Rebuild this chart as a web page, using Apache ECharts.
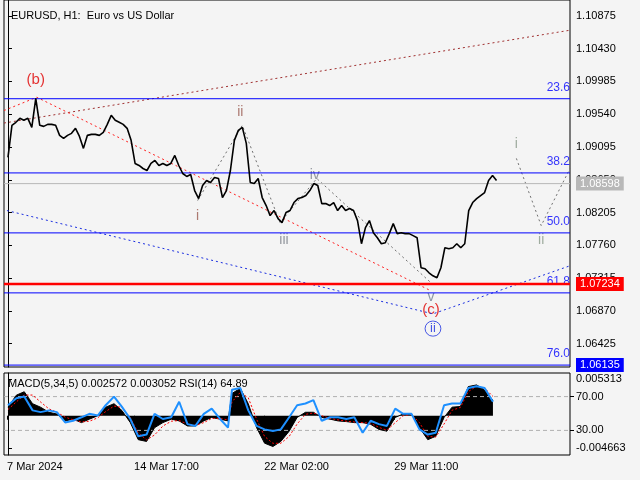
<!DOCTYPE html>
<html><head><meta charset="utf-8">
<script src="https://cdn.jsdelivr.net/npm/echarts@6/dist/echarts.min.js"></script>
<style>html,body{margin:0;padding:0;background:#f4f4f4}#c{width:640px;height:480px}</style>
</head><body><div id="c"></div>
<script>
// Price trace (EURUSD H1), one point per bar step
const priceIdx = [];
const priceVals = [1.08953,1.09389,1.09430,1.09484,1.09457,1.09484,1.09362,1.09756,1.09389,1.09375,1.09402,1.09402,1.09389,1.09253,1.09212,1.09253,1.09280,1.09348,1.09239,1.09076,1.09253,1.09266,1.09266,1.09253,1.09294,1.09402,1.09525,1.09457,1.09430,1.09402,1.09348,1.09185,1.08872,1.08844,1.08803,1.08776,1.08872,1.08912,1.08844,1.08872,1.08844,1.08872,1.08980,1.08844,1.08735,1.08695,1.08722,1.08504,1.08395,1.08572,1.08640,1.08613,1.08681,1.08667,1.08409,1.08504,1.08776,1.09185,1.09321,1.09362,1.09144,1.08613,1.08599,1.08667,1.08409,1.08300,1.08164,1.08232,1.08123,1.08069,1.08205,1.08232,1.08341,1.08395,1.08409,1.08436,1.08504,1.08599,1.08572,1.08327,1.08327,1.08300,1.08341,1.08232,1.08300,1.08232,1.08259,1.08232,1.08096,1.07782,1.08001,1.08096,1.07932,1.07864,1.07782,1.07796,1.07919,1.08055,1.07919,1.07932,1.07919,1.07919,1.07892,1.07864,1.07456,1.07443,1.07388,1.07347,1.07320,1.07456,1.07728,1.07715,1.07728,1.07782,1.07728,1.07782,1.08232,1.08341,1.08395,1.08436,1.08477,1.08640,1.08708,1.08640];
for (let i = 0; i < priceVals.length; i++) priceIdx.push(i);

const fibLevels = [23.6, 38.2, 50.0, 61.8, 76.0];
const fibPrices = [1.0975, 1.08743, 1.07929, 1.07115, 1.06135];
const priceTicks = [1.06425,1.06870,1.07315,1.07760,1.08205,1.08650,1.09095,1.09540,1.09985,1.10430,1.10875];
const lastPrice = 1.08598, redLevel = 1.07234;

const upperChannel = [[-1,1.0942],[141.5,1.1068]];
const bcLine = [[-1,1.0959],[7.25,1.0977],[106.5,1.07143]];
const blueLine = [[-0.25,1.08232],[107,1.0683],[141.5,1.07483]];
const waveLine = [[47.75,1.08368],[59,1.09389],[68.5,1.08069],[77.75,1.08667],[106.5,1.07252]];
const futureLine = [[128,1.0894],[134.25,1.08028],[141.5,1.08803]];

const macdX = [0,2.1,4.1,6.2,8.2,10.3,12.3,14.4,16.4,18.5,20.5,22.6,24.6,26.7,28.7,30.8,32.8,34.9,36.9,39,41.1,43.1,45.2,47.2,49.3,51.3,53.4,55.4,56.4,58.5,60.5,62.6,64.6,66.7,68.7,70.8,72.8,74.9,76.9,79,81.1,83.1,85.2,87.2,89.3,91.3,93.4,95.4,97.5,99.5,101.6,103.6,105.7,107.7,109.8,111.8,113.9,115.9,118,120,122.1];
const macdVals = [0.00124,0.00298,0.00348,0.00174,0.00124,0.0005,0.00025,-0.00075,-0.0005,-0.001,-0.0005,0,0.00124,0.00174,0.00075,-0.001,-0.00348,-0.00373,-0.00174,-0.001,-0.0005,-0.00075,-0.00149,-0.00149,-0.00075,-0.00025,-0.0005,-0.00075,0.00323,0.00398,0.00174,-0.00174,-0.00398,-0.00447,-0.00373,-0.00224,-0.00025,0.0005,0.0005,-0.00025,-0.0005,-0.00075,-0.00085,-0.001,-0.001,-0.00124,-0.00199,-0.00224,-0.00025,0.00025,0.00025,-0.00174,-0.00348,-0.00298,-0.00025,0.00124,0.00134,0.00423,0.00447,0.00373,0.00224];
const signalVals = [0.0009,0.0020,0.0030,0.0030,0.0020,0.0010,0.0005,-0.0002,-0.0006,-0.0009,-0.0008,-0.0003,0.0006,0.0014,0.0012,-0.0003,-0.0025,-0.0035,-0.0028,-0.0015,-0.0008,-0.0007,-0.0012,-0.0014,-0.0010,-0.0004,-0.0004,-0.0006,0.0020,0.0034,0.0026,-0.0005,-0.0030,-0.0040,-0.0040,-0.0030,-0.0012,0.0002,0.0004,0.0000,-0.0004,-0.0006,-0.0008,-0.0009,-0.0010,-0.0011,-0.0017,-0.0021,-0.0010,0.0000,0.0002,-0.0010,-0.0030,-0.0031,-0.0012,0.0008,0.0012,0.0035,0.0043,0.0040,0.0028];
const rsiVals = [59.8,68,70,53.7,51.6,53.7,51.6,39.4,41.4,45.5,49.6,47.6,59.8,70,57.8,43.5,23.1,25.1,49.6,43.5,45.5,63.9,37.4,35.3,49.6,55.7,43.5,33.3,78.2,80.2,53.7,35.3,31.2,29.2,31.2,45.5,59.8,61.8,65.9,41.4,45.5,45.5,43.5,45.5,27.2,41.4,37.4,35.3,55.7,49.6,49.6,31.2,25.1,27.2,59.8,61.8,61.8,80.2,82.2,80.2,63.9];
const rsiLevels = [70, 30];

const dateLabels = ['7 Mar 2024','14 Mar 17:00','22 Mar 02:00','29 Mar 11:00'];
const dateIdx = [-0.25, 31.75, 64.5, 97.25];

const labels = [
  {v:[7,1.1000],t:'(b)',c:'#e00000',s:15},
  {v:[47.75,1.0816],t:'i',c:'#9a5a50',s:14},
  {v:[58.5,1.09566],t:'ii',c:'#9a5a50',s:14},
  {v:[69.5,1.07824],t:'iii',c:'#7a8088',s:14},
  {v:[77.25,1.08708],t:'iv',c:'#7a8088',s:14},
  {v:[106.5,1.0706],t:'v',c:'#708090',s:14},
  {v:[106.5,1.0688],t:'(c)',c:'#e00000',s:15},
  {v:[128,1.0914],t:'i',c:'#8a9a8a',s:14},
  {v:[134.25,1.07824],t:'ii',c:'#8a9a8a',s:14}
];

const XMIN = -1, XMAX = 141.5;
const zip = (xs, ys) => xs.map((x, i) => [x, ys[i]]);
const font = 'Liberation Sans';
const dotted = (data, color) => ({type:'line', data, symbol:'none', silent:true, lineStyle:{color, width:1, type:[2,3]}, xAxisIndex:0, yAxisIndex:0});
const hline = (p, color, width, box, xi, yi, dash) => ({type:'line', xAxisIndex:xi||0, yAxisIndex:yi||0, data:[[XMIN,p],[XMAX,p]], symbol:'none', silent:true,
  lineStyle:{color, width, type:dash||'solid'},
  endLabel: box ? {show:true, formatter:p.toFixed(5), color:'#fff', backgroundColor:color, fontSize:11, padding:[2,4,1,4], distance:6} : {show:false}});

const series = [
  dotted(upperChannel,'#a03030'),
  dotted(bcLine,'#ff2020'),
  dotted(blueLine,'#1a2ee0'),
  dotted(waveLine,'#707070'),
  dotted(futureLine,'#707070'),
  hline(lastPrice, '#b8b8b8', 1, true),
  ...fibPrices.map((p,i)=>hline(p, '#0000ff', 1, i===4)),
  hline(redLevel, '#ff0000', 2.5, true),
  {type:'line', xAxisIndex:0, yAxisIndex:0, data:zip(priceIdx, priceVals), symbol:'none', silent:true, lineStyle:{color:'#000', width:1.6}},
  {type:'scatter', xAxisIndex:0, yAxisIndex:0, symbolSize:0, silent:true, labelLayout:{hideOverlap:false},
   data:fibLevels.map((f,i)=>({value:[XMAX,fibPrices[i]], label:{show:true, position:'top', align:'right', offset:[-3,1], formatter:f.toFixed(1), color:'#0000ff', fontSize:12}}))},
  {type:'scatter', xAxisIndex:0, yAxisIndex:0, symbolSize:0, silent:true, labelLayout:{hideOverlap:false},
   data:labels.map(l=>({value:l.v, label:{show:true, position:'inside', formatter:l.t, color:l.c, fontSize:l.s}}))},
  {type:'scatter', xAxisIndex:0, yAxisIndex:0, symbolSize:0, silent:true,
   data:[{value:[107,1.0663], label:{show:true, position:'inside', formatter:'ii', color:'#1a2ee0', fontSize:13, borderColor:'#1a2ee0', borderWidth:1, borderRadius:9, padding:[1,5,1,5]}}]},
  ...rsiLevels.map(r=>hline(r, '#b0b0b0', 1, false, 1, 2, [4,3])),
  {type:'line', xAxisIndex:1, yAxisIndex:1, data:zip(macdX, macdVals), symbol:'none', silent:true, lineStyle:{color:'#000', width:1}, areaStyle:{color:'#000', opacity:1, origin:0}},
  {type:'line', xAxisIndex:1, yAxisIndex:1, data:zip(macdX, signalVals), symbol:'none', silent:true, lineStyle:{color:'#ff0000', width:1, type:[2,2]}},
  {type:'line', xAxisIndex:1, yAxisIndex:2, data:zip(macdX, rsiVals), symbol:'none', silent:true, lineStyle:{color:'#1e90ff', width:2}}
];

const chart = echarts.init(document.getElementById('c'));
chart.setOption({
  backgroundColor:'#f4f4f4',
  animation:false,
  textStyle:{fontFamily:font},
  title:{text:'EURUSD, H1:  Euro vs US Dollar', left:6, top:5, textStyle:{fontSize:11, fontWeight:'normal', color:'#000', fontFamily:font}},
  grid:[
    {left:4, top:0, width:566, height:367, show:true, borderColor:'#000', borderWidth:1, backgroundColor:'transparent'},
    {left:4, top:373, width:566, height:82, show:true, borderColor:'#000', borderWidth:1, backgroundColor:'transparent'}
  ],
  xAxis:[
    {type:'value', gridIndex:0, min:XMIN, max:XMAX, axisLine:{show:false}, axisTick:{show:false}, axisLabel:{show:false}, splitLine:{show:false}},
    {type:'value', gridIndex:1, min:XMIN, max:XMAX, axisLine:{show:false}, splitLine:{show:false},
     axisTick:{show:true, customValues:dateIdx, length:4, inside:false, lineStyle:{color:'#000'}},
     axisLabel:{customValues:dateIdx, color:'#000', fontSize:11, margin:6, align:'left', formatter:(v)=>{const i=dateIdx.indexOf(v);return i>=0?dateLabels[i]:'';}}}
  ],
  yAxis:[
    {type:'value', gridIndex:0, position:'right', min:1.06109, max:1.1109, splitLine:{show:false},
     axisLine:{show:true, lineStyle:{color:'#000'}},
     axisTick:{show:true, customValues:priceTicks, length:4, lineStyle:{color:'#000'}},
     axisLabel:{customValues:priceTicks, color:'#000', fontSize:11, margin:6, formatter:(v)=>v.toFixed(5)}},
    {type:'value', gridIndex:1, position:'right', min:-0.0057, max:0.0062, splitLine:{show:false},
     axisLine:{show:true, lineStyle:{color:'#000'}},
     axisTick:{show:true, customValues:[0.005313,-0.004663], length:4, lineStyle:{color:'#000'}},
     axisLabel:{customValues:[0.005313,-0.004663], color:'#000', fontSize:11, margin:6, formatter:(v)=>v.toFixed(6)}},
    {type:'value', gridIndex:1, position:'right', min:0.9, max:97.9, splitLine:{show:false},
     axisLine:{show:false},
     axisTick:{show:true, customValues:rsiLevels, length:4, lineStyle:{color:'#000'}},
     axisLabel:{customValues:rsiLevels, color:'#000', fontSize:11, margin:6, formatter:(v)=>v.toFixed(2)}}
  ],
  series,
  graphic:[{type:'text', left:8, top:378, style:{text:'MACD(5,34,5) 0.002572 0.003052 RSI(14) 64.89', fill:'#000', font:'11px "Liberation Sans"'}}]
});
</script></body></html>
